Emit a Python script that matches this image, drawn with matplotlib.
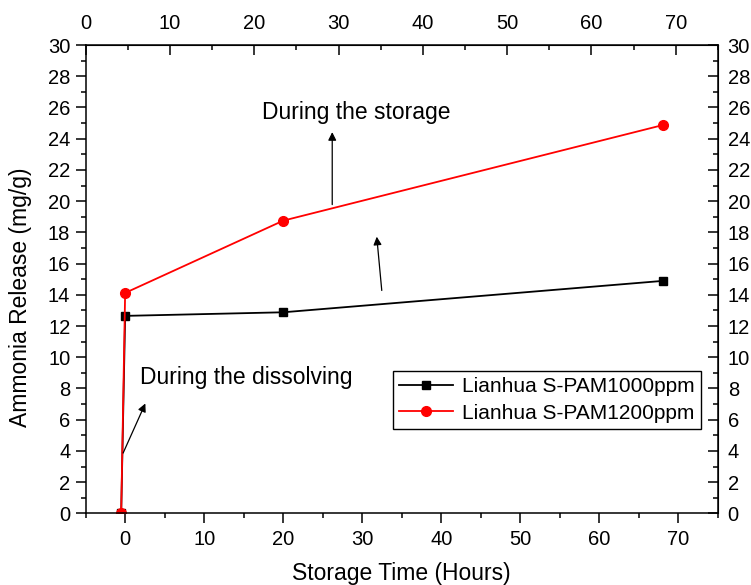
import matplotlib
matplotlib.use("Agg")
import matplotlib.pyplot as plt
from matplotlib.ticker import MultipleLocator

plt.rcParams['font.family'] = ['Liberation Sans', 'DejaVu Sans']

time_hours = [-0.5, 0, 20, 68]
pam1000 = [0.0, 12.65, 12.88, 14.89]
pam1200 = [0.0, 14.12, 18.75, 24.87]
label1000 = "Lianhua S-PAM1000ppm"
label1200 = "Lianhua S-PAM1200ppm"

fig = plt.figure(figsize=(7.51, 5.85), dpi=100)
ax = fig.add_axes([0.114, 0.1225, 0.842, 0.8005])

ax.plot(time_hours, pam1000, color='black', marker='s', markersize=6, lw=1.3, label=label1000)
ax.plot(time_hours, pam1200, color='red', marker='o', markersize=7, lw=1.3, label=label1200)

ax.set_xlim(-5, 75)
ax.set_ylim(0, 30)
ax.xaxis.set_minor_locator(MultipleLocator(5))
ax.yaxis.set_major_locator(MultipleLocator(2))
ax.yaxis.set_minor_locator(MultipleLocator(1))
ax.set_xticks(list(range(0, 71, 10)))

for sp in ax.spines.values():
    sp.set_linewidth(1.1)

TL = 14.5
ax.tick_params(which='major', direction='out', length=7, width=1.1, labelsize=TL)
ax.tick_params(which='minor', direction='out', length=3.6, width=1.1)
ax.tick_params(axis='x', which='major', pad=5)
ax.tick_params(axis='y', which='major', pad=4)

ax.set_xlabel("Storage Time (Hours)", fontsize=16.5)
ax.set_ylabel("Ammonia Release (mg/g)", fontsize=16.5)
ax.xaxis.set_label_coords(0.5, -0.103)
ax.yaxis.set_label_coords(-0.085, 0.462)

top = ax.secondary_xaxis('top', functions=(lambda x: (x + 5) * 75 / 80,
                                           lambda t: t * 80 / 75 - 5))
top.set_xticks(list(range(0, 71, 10)))
top.xaxis.set_minor_locator(MultipleLocator(5))
top.tick_params(which='major', direction='in', length=7, width=1.1, labelsize=TL, pad=9)
top.tick_params(which='minor', direction='in', length=3.6, width=1.1)

right = ax.secondary_yaxis('right')
right.yaxis.set_major_locator(MultipleLocator(2))
right.yaxis.set_minor_locator(MultipleLocator(1))
right.tick_params(which='major', direction='in', length=7, width=1.1, labelsize=TL, pad=7)
right.tick_params(which='minor', direction='in', length=3.6, width=1.1)

# annotations
ax.annotate("", xy=(26.2, 24.6), xytext=(26.2, 19.6),
            arrowprops=dict(arrowstyle='-|>', color='black', lw=0.9, mutation_scale=12))
ax.text(17.3, 25.65, "During the storage", fontsize=16.5, va='center', ha='left')
ax.annotate("", xy=(31.8, 17.9), xytext=(32.5, 14.1),
            arrowprops=dict(arrowstyle='-|>', color='black', lw=0.9, mutation_scale=12))
ax.annotate("", xy=(2.7, 7.2), xytext=(-0.4, 3.7),
            arrowprops=dict(arrowstyle='-|>', color='black', lw=0.9, mutation_scale=12))
ax.text(1.9, 8.7, "During the dissolving", fontsize=16.5, va='center', ha='left')

leg = ax.legend(loc='upper left', bbox_to_anchor=(0.486, 0.304), fontsize=15,
                frameon=True, fancybox=False, edgecolor='black', framealpha=1,
                handlelength=2.6, borderpad=0.3, labelspacing=0.35, handletextpad=0.4,
                borderaxespad=0)
leg.get_frame().set_linewidth(1.0)

fig.savefig("out.png", dpi=100)
